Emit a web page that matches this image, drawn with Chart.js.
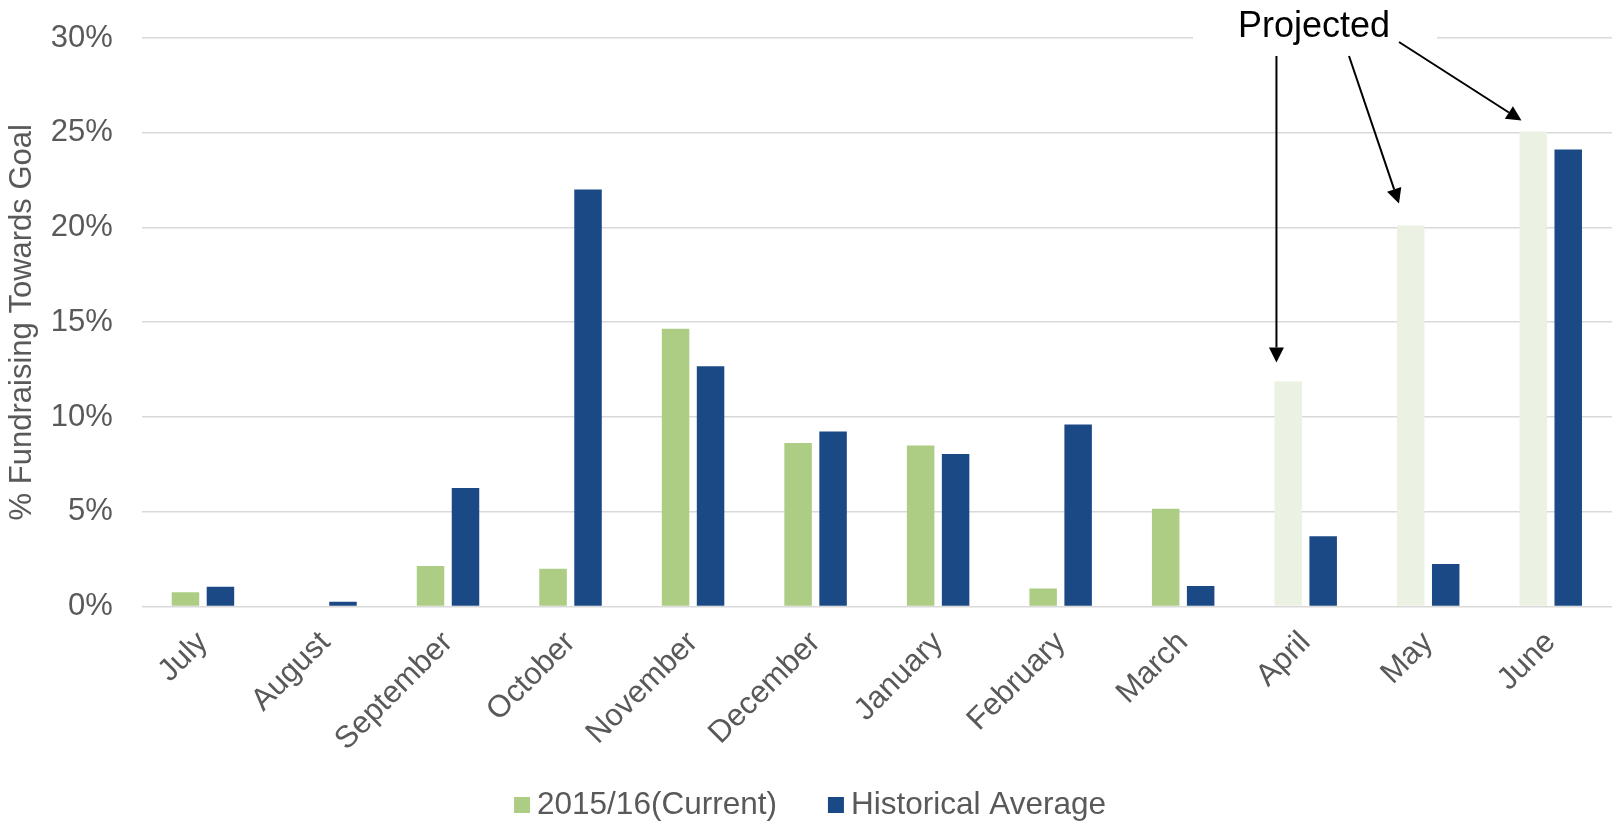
<!DOCTYPE html>
<html>
<head>
<meta charset="utf-8">
<script src="https://cdn.jsdelivr.net/npm/chart.js@4"></script>
<style>
  html, body { margin: 0; padding: 0; background: #fff; }
  #wrap { width: 1612px; height: 822px; }
</style>
</head>
<body>
<div id="wrap"><canvas id="fundChart"></canvas></div>
<script>
// months of the fiscal year
const months = ["July", "August", "September", "October", "November", "December",
  "January", "February", "March", "April", "May", "June"];

// % of goal raised each month
const current = [0.75, 0, 2.13, 1.99, 14.65, 8.63, 8.5, 0.95, 5.16, 11.87, 20.1, 25.06];
const historical = [1.04, 0.25, 6.25, 22.0, 12.68, 9.23, 8.05, 9.6, 1.08, 3.7, 2.24, 24.12];

// months that are only projected (lighter bars, arrows)
const projected = ["April", "May", "June"];

const yTicks = [0, 5, 10, 15, 20, 25, 30];

const GREEN = "#ADCD84";
const GREEN_LIGHT = "#ECF2E3";
const BLUE = "#1A4985";
const GREY = "#595959";
const FONT = '"Liberation Sans", Arial, Helvetica, sans-serif';

Chart.defaults.font.family = FONT;
Chart.defaults.color = GREY;

// legend drawn by hand so the spacing matches the original
const bottomLegend = {
  id: "bottomLegend",
  afterDraw(chart) {
    const ctx = chart.ctx;
    const sets = chart.data.datasets;
    const box = 16, gapText = 7, gapItem = 51;
    ctx.save();
    ctx.font = "31.5px " + FONT;
    const widths = sets.map((d) => ctx.measureText(d.label).width);
    let total = 0;
    widths.forEach((w, i) => { total += box + gapText + w + (i ? gapItem : 0); });
    let x = chart.width / 2 + 4 - total / 2;
    const base = 814;
    sets.forEach((d, i) => {
      ctx.fillStyle = i === 0 ? GREEN : BLUE;
      ctx.fillRect(x, base - 17, box, box);
      ctx.fillStyle = GREY;
      ctx.textBaseline = "alphabetic";
      ctx.textAlign = "left";
      ctx.fillText(d.label, x + box + gapText, base);
      x += box + gapText + widths[i] + gapItem;
    });
    ctx.restore();
  }
};

// "Projected" callout with arrows pointing at the projected bars
const projectedNote = {
  id: "projectedNote",
  afterDraw(chart) {
    const ctx = chart.ctx;
    const meta = chart.getDatasetMeta(0);
    const gaps = [19, 22, 11];
    const tails = [null, [1349, 56], [1399, 42]];

    ctx.save();
    ctx.fillStyle = "#fff";
    ctx.fillRect(1193, 0, 244, 52);
    ctx.fillStyle = "#000";
    ctx.font = "36px " + FONT;
    ctx.textAlign = "center";
    ctx.textBaseline = "alphabetic";
    ctx.fillText("Projected", 1314, 37);

    projected.forEach((m, k) => {
      const bar = meta.data[months.indexOf(m)];
      const tx = bar.x - bar.width / 2 + 2;
      const ty = bar.y - gaps[k];
      const tail = tails[k] || [tx, 56];
      drawArrow(ctx, tail[0], tail[1], tx, ty);
    });
    ctx.restore();
  }
};

function drawArrow(ctx, x0, y0, x1, y1) {
  const ang = Math.atan2(y1 - y0, x1 - x0);
  const len = 15, half = 7.5;
  const bx = x1 - len * Math.cos(ang);
  const by = y1 - len * Math.sin(ang);
  ctx.strokeStyle = "#000";
  ctx.lineWidth = 2;
  ctx.beginPath();
  ctx.moveTo(x0, y0);
  ctx.lineTo(bx, by);
  ctx.stroke();
  ctx.beginPath();
  ctx.moveTo(x1, y1);
  ctx.lineTo(bx + half * Math.sin(ang), by - half * Math.cos(ang));
  ctx.lineTo(bx - half * Math.sin(ang), by + half * Math.cos(ang));
  ctx.closePath();
  ctx.fillStyle = "#000";
  ctx.fill();
}

const ctx = document.getElementById("fundChart");
new Chart(ctx, {
  type: "bar",
  data: {
    labels: months,
    datasets: [
      {
        label: "2015/16(Current)",
        data: current,
        backgroundColor: months.map((m) => projected.includes(m) ? GREEN_LIGHT : GREEN),
        borderWidth: 0,
        categoryPercentage: 0.571,
        barPercentage: 0.786
      },
      {
        label: "Historical Average",
        data: historical,
        backgroundColor: BLUE,
        borderWidth: 0,
        categoryPercentage: 0.571,
        barPercentage: 0.786
      }
    ]
  },
  options: {
    responsive: true,
    maintainAspectRatio: false,
    animation: false,
    layout: { padding: { top: 38, left: 4, right: 0, bottom: 54 } },
    scales: {
      x: {
        grid: { display: false },
        border: { display: false },
        afterFit: (s) => { s.paddingLeft = 0; s.paddingRight = 0; },
        ticks: {
          font: { size: 31 },
          color: GREY,
          minRotation: 45,
          maxRotation: 45,
          padding: 10
        }
      },
      y: {
        min: 0,
        max: 30,
        afterBuildTicks: (axis) => { axis.ticks = yTicks.map((v) => ({ value: v })); },
        afterFit: (s) => { s.width = 137.7; s.paddingTop = 0; s.paddingBottom = 0; },
        ticks: {
          font: { size: 31 },
          color: GREY,
          padding: 29,
          callback: (v) => v + "%"
        },
        grid: { color: "#D9D9D9", lineWidth: 1.5, drawTicks: false },
        border: { display: false },
        title: {
          display: true,
          text: "% Fundraising Towards Goal",
          font: { size: 31 },
          color: GREY,
          padding: { top: 0, bottom: 9.5 }
        }
      }
    },
    plugins: {
      legend: { display: false },
      tooltip: { enabled: false }
    }
  },
  plugins: [bottomLegend, projectedNote]
});
</script>
</body>
</html>
